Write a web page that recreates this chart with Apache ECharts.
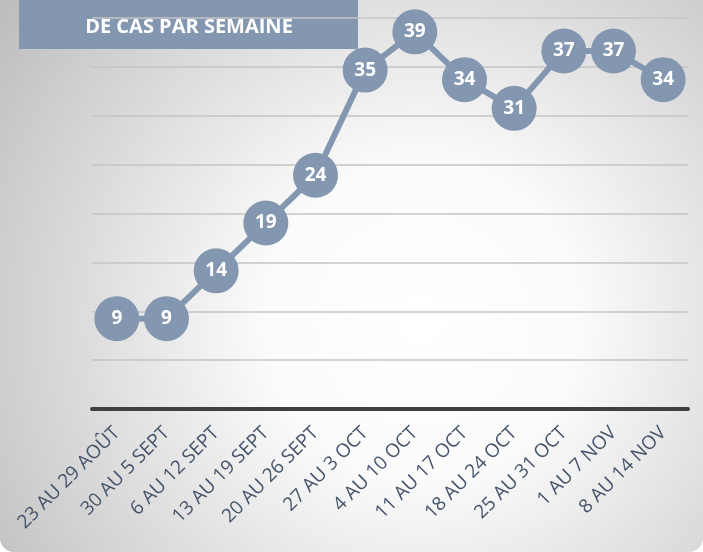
<!DOCTYPE html>
<html>
<head>
<meta charset="utf-8">
<script src="https://cdn.jsdelivr.net/npm/echarts@6/dist/echarts.min.js"></script>
<style>
html,body{margin:0;padding:0;background:#ffffff;}
#chart{width:703px;height:552px;}
</style>
</head>
<body>
<div id="chart"></div>
<script>
const categories = ['23 AU 29 AOÛT','30 AU 5 SEPT','6 AU 12 SEPT','13 AU 19 SEPT','20 AU 26 SEPT','27 AU 3 OCT','4 AU 10 OCT','11 AU 17 OCT','18 AU 24 OCT','25 AU 31 OCT','1 AU 7 NOV','8 AU 14 NOV'];
const cases = [9, 9, 14, 19, 24, 35, 39, 34, 31, 37, 37, 34];
const titleText = 'DE CAS PAR SEMAINE';

const chart = echarts.init(document.getElementById('chart'), null, {renderer:'canvas'});
const slate = '#8497b0';
chart.setOption({
  animation:false,
  graphic:[
    {type:'rect', z:-10, silent:true, shape:{x:0,y:0,width:703,height:552,r:[0,0,14,14]},
     style:{fill:{type:'radial', x:0.6, y:0.58, r:0.95, colorStops:[{offset:0,color:'#ffffff'},{offset:0.3,color:'#fbfbfb'},{offset:1,color:'#bdbdbd'}]}}},
    {type:'group', z:100, children:[
      {type:'rect', shape:{x:19,y:0,width:339,height:49}, style:{fill:slate}},
      {type:'text', x:189, y:27, style:{text:titleText, fill:'#ffffff', font:'bold 20px "Open Sans"', align:'center', verticalAlign:'middle'}}
    ]}
  ],
  grid:{left:92, right:15, top:18, bottom:143},
  xAxis:{type:'category', data:categories, boundaryGap:true,
    axisLine:{lineStyle:{color:'#404040', width:4}},
    axisTick:{show:false},
    splitLine:{show:false},
    axisLabel:{rotate:45, interval:0, margin:21, color:'#44546a', fontFamily:'Open Sans', fontSize:19}
  },
  yAxis:[
    {type:'value', min:0, max:40, interval:5, axisLabel:{show:false}, axisLine:{show:false}, axisTick:{show:false},
     splitLine:{lineStyle:{color:'#c4c4c4', width:1.5}}},
    {type:'value', min:-0.45, max:40.45, show:false, splitLine:{show:false}}
  ],
  series:[{
    type:'line', yAxisIndex:1, data:cases, symbol:'circle', symbolSize:45,
    lineStyle:{color:slate, width:6},
    itemStyle:{color:slate},
    label:{show:true, position:'inside', color:'#ffffff', fontWeight:'bold', fontSize:19, fontFamily:'Open Sans'}
  }]
});
</script>
</body>
</html>
